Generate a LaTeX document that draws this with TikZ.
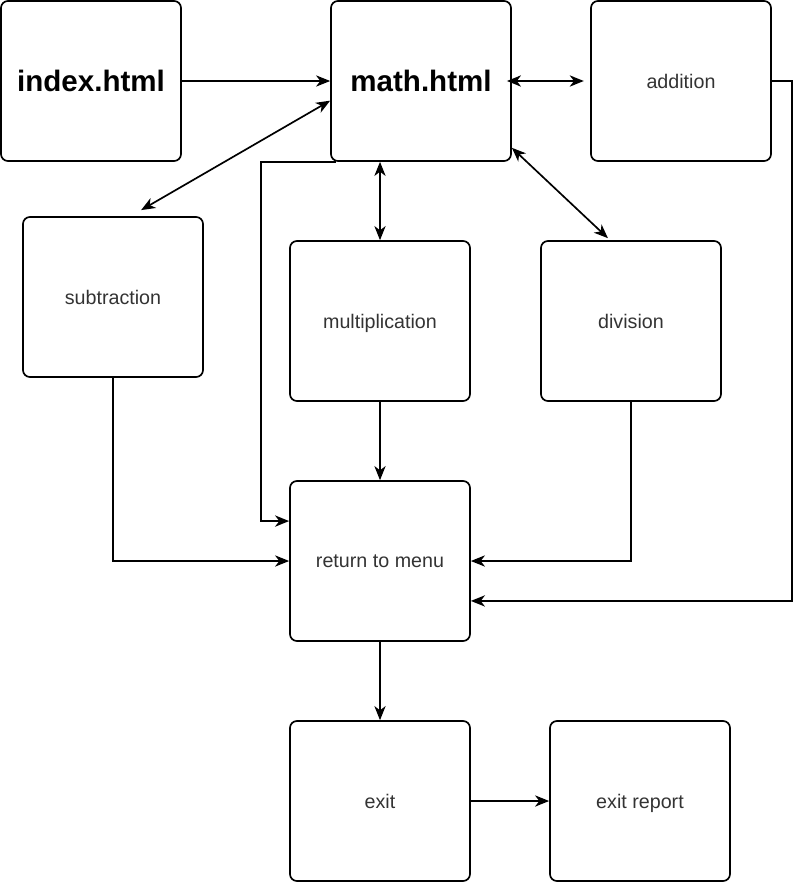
\documentclass[tikz,border=0pt]{standalone}
\usepackage{fontspec}
\setmainfont{Liberation Sans}
\usepackage{tikz}
\usetikzlibrary{arrows.meta}
\usepackage{color}
\definecolor{txtgray}{RGB}{51,51,51}

\begin{document}
\begin{tikzpicture}[x=0.025cm, y=-0.025cm]
    \tikzset{ pg/.style={draw=black, line width=1.2pt, rounded corners=5pt, minimum width=4.5cm, minimum height=4cm, text=txtgray, text depth=0pt, font=\fontsize{14}{16}\selectfont } }
    \tikzset{ pgbig/.style={pg, text=black, font=\fontsize{21}{24}\selectfont\bfseries } }
    \tikzset{ ln/.style={line width=1.2pt, -{Stealth[length=10pt, width=8pt, inset=3pt]} } }
    \tikzset{ bi/.style={ln, {Stealth[length=10pt, width=8pt, inset=3pt]}-{Stealth[length=10pt, width=8pt, inset=3pt]} } }

    \useasboundingbox (0,0) rectangle (801,882);

    \node[pgbig] (index)    at (91, 81)  {index.html};
    \node[pgbig] (math)     at (421, 81) {math.html};
    \node[pg]    (add)      at (681, 81) {addition};
    \node[pg]    (sub)      at (113, 297) {subtraction};
    \node[pg]    (mult)     at (380, 321) {multiplication};
    \node[pg]    (div)      at (631, 321) {division};
    \node[pg]    (ret)      at (380, 561) {return to menu};
    \node[pg]    (exit)     at (380, 801) {exit};
    \node[pg]    (report)   at (640, 801) {exit report};

    \draw[ln] (index.east) -- (math.west);
    \draw[bi] ([xshift=-3.5pt]math.east) -- ([xshift=-4.5pt]add.west);
    \draw[bi] ([yshift=-14pt]math.west) -- ([xshift=20pt, yshift=4.3pt]sub.north);
    \draw[bi] (mult.north |- math.south) -- (mult.north);
    \draw[bi] ([yshift=10pt]math.south east) -- ([xshift=-16.4pt, yshift=1.4pt]div.north);
    \draw[ln] ([xshift=4pt]math.south west) -- ++(-75,0) |- ([yshift=28.4pt]ret.west);
    \draw[ln] (mult) -- (ret);
    \draw[ln] (sub.south) |- (ret.west);
    \draw[ln] (div.south) |- (ret.east);
    \draw[ln] (add.east) -- ++(20,0) |- ([yshift=-28.4pt]ret.east);
    \draw[ln] (ret) -- (exit);
    \draw[ln] (exit) -- (report);
\end{tikzpicture}
\end{document}
